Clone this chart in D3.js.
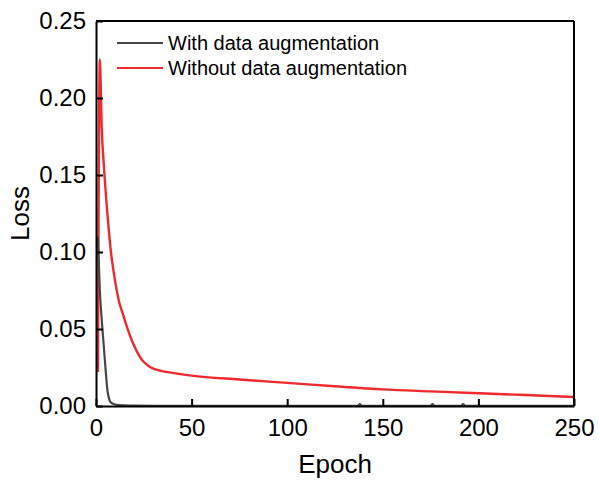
<!DOCTYPE html>
<html>
<head>
<meta charset="utf-8">
<script src="https://cdn.jsdelivr.net/npm/d3@7"></script>
<style>
  body { margin: 0; background: #fff; }
  svg text { font-family: "Liberation Sans", Arial, sans-serif; fill: #000; }
</style>
</head>
<body>
<div id="chart"></div>
<script>
// epochs / loss values
const withAugEpochs = [1, 2, 3, 4, 5, 6, 7, 8, 10, 15, 20, 40, 80, 137, 138, 139, 175, 176, 177, 191, 192, 193, 250];
const withAugLoss   = [0.11, 0.075, 0.056, 0.04, 0.024, 0.01, 0.004, 0.002, 0.001, 0.0004, 0.0002, 0.0001, 0.0001, 0.0001, 0.0012, 0.0001, 0.0001, 0.0012, 0.0001, 0.0001, 0.0012, 0.0001, 0.0001];

const withoutAugEpochs = [1, 2, 3, 4, 5, 6, 7, 8, 9, 10, 11, 12, 14, 16, 18, 20, 22, 24, 26, 28, 30, 34, 40, 50, 75, 100, 125, 150, 175, 200, 225, 250];
const withoutAugLoss   = [0.022, 0.225, 0.180, 0.158, 0.140, 0.124, 0.110, 0.098, 0.089, 0.081, 0.074, 0.068, 0.060, 0.052, 0.045, 0.039, 0.034, 0.030, 0.0275, 0.0255, 0.0243, 0.0228, 0.0215, 0.0197, 0.0172, 0.0150, 0.0128, 0.0108, 0.0095, 0.0083, 0.0071, 0.0058];

const xTicks = [0, 50, 100, 150, 200, 250];
const yTicks = [0, 0.05, 0.10, 0.15, 0.20, 0.25];
const seriesNames = ["With data augmentation", "Without data augmentation"];
const seriesColors = ["#464646", "#ee2a2f"];

const W = 598, H = 480;
const margin = { top: 21, right: 24, bottom: 74, left: 96 };
const iw = W - margin.left - margin.right;
const ih = H - margin.top - margin.bottom;

const svg = d3.select("#chart").append("svg")
  .attr("width", W).attr("height", H);

const g = svg.append("g").attr("transform", `translate(${margin.left},${margin.top})`);

const x = d3.scaleLinear().domain([0, 250]).range([0, iw]);
const y = d3.scaleLinear().domain([0, 0.25]).range([ih, 0]);

// clip so lines stay inside the frame
svg.append("defs").append("clipPath").attr("id", "clip")
  .append("rect").attr("width", iw).attr("height", ih);

const line = d3.line().x(d => x(d[0])).y(d => y(d[1])).curve(d3.curveMonotoneX);

const series = [
  d3.zip(withAugEpochs, withAugLoss),
  d3.zip(withoutAugEpochs, withoutAugLoss)
];

const plot = g.append("g").attr("clip-path", "url(#clip)");
// red first, black on top near the origin
plot.append("path").datum(series[1])
  .attr("d", line).attr("fill", "none")
  .attr("stroke", seriesColors[1]).attr("stroke-width", 2.4);
plot.append("path").datum(series[0])
  .attr("d", line).attr("fill", "none")
  .attr("stroke", seriesColors[0]).attr("stroke-width", 2.2);

// axes, ticks pointing inward
const xAxis = g.append("g").attr("transform", `translate(0,${ih})`)
  .call(d3.axisBottom(x).tickValues(xTicks).tickSizeInner(-7).tickSizeOuter(0).tickPadding(13).tickFormat(d3.format("d")));
const yAxis = g.append("g")
  .call(d3.axisLeft(y).tickValues(yTicks).tickSizeInner(-7).tickSizeOuter(0).tickPadding(10).tickFormat(d3.format(".2f")));

[xAxis, yAxis].forEach(a => {
  a.select(".domain").attr("stroke", "#000").attr("stroke-width", 2);
  a.selectAll(".tick line").attr("stroke", "#000").attr("stroke-width", 2);
  a.selectAll(".tick text").attr("font-size", 24).attr("font-family", "Liberation Sans, Arial, sans-serif").attr("fill", "#000");
});

// top and right frame
g.append("line").attr("x1", 0).attr("x2", iw).attr("y1", 0).attr("y2", 0)
  .attr("stroke", "#000").attr("stroke-width", 2);
g.append("line").attr("x1", iw).attr("x2", iw).attr("y1", 0).attr("y2", ih)
  .attr("stroke", "#000").attr("stroke-width", 2);

// axis titles
svg.append("text")
  .attr("x", margin.left + iw / 2).attr("y", 473)
  .attr("text-anchor", "middle").attr("font-size", 26)
  .text("Epoch");
svg.append("text")
  .attr("transform", `translate(29,${margin.top + ih / 2}) rotate(-90)`)
  .attr("text-anchor", "middle").attr("font-size", 26)
  .text("Loss");

// legend
const legend = g.append("g").attr("transform", "translate(21,22)");
seriesNames.forEach((name, i) => {
  const row = legend.append("g").attr("transform", `translate(0,${i * 25})`);
  row.append("line").attr("x1", 0).attr("x2", 46).attr("y1", 0).attr("y2", 0)
    .attr("stroke", seriesColors[i]).attr("stroke-width", 2.2);
  row.append("text").attr("x", 51).attr("y", 7)
    .attr("font-size", 20).text(name);
});
</script>
</body>
</html>
